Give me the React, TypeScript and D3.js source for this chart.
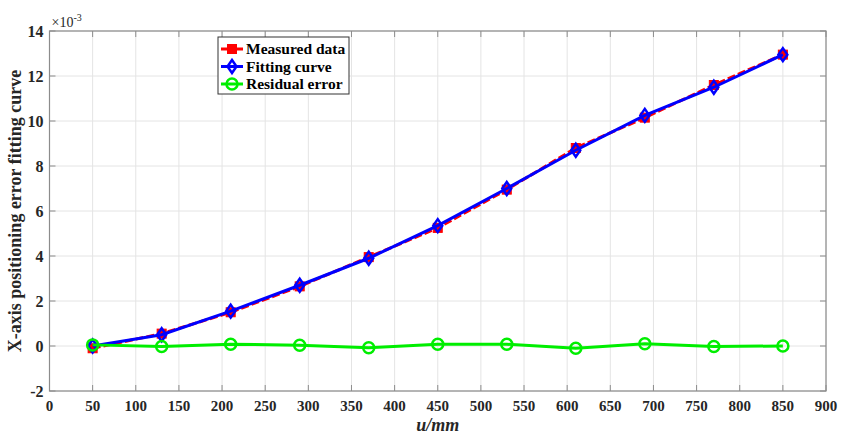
import React from 'react';
import * as d3 from 'd3';

// values in units of 1e-3
const positions = [50, 130, 210, 290, 370, 450, 530, 610, 690, 770, 850];
const measured = [-0.1, 0.55, 1.5, 2.65, 3.95, 5.25, 6.95, 8.8, 10.15, 11.6, 12.95];
const fitting = [0.0, 0.5, 1.55, 2.7, 3.9, 5.35, 7.0, 8.7, 10.25, 11.5, 12.95];
const residual = [0.05, -0.02, 0.08, 0.03, -0.08, 0.08, 0.08, -0.1, 0.1, -0.02, 0.0];

const xTicks = d3.range(0, 901, 50);
const yTicks = d3.range(-2, 15, 2);
const legendItems = [
  { label: 'Measured data', color: '#ff0000', shape: 'square' },
  { label: 'Fitting curve', color: '#0000ff', shape: 'diamond' },
  { label: 'Residual error', color: '#00ee00', shape: 'circle' },
];

const W = 843;
const H = 436;
const margin = { top: 31, right: 17, bottom: 45, left: 49.5 };
const font = '"Liberation Serif", "Times New Roman", serif';

const App = () => {
  const x = d3.scaleLinear().domain([0, 900]).range([margin.left, W - margin.right]);
  const y = d3.scaleLinear().domain([-2, 14]).range([H - margin.bottom, margin.top]);
  const line = d3.line<number>().x((_, i) => x(positions[i])).y(d => y(d));

  const [x0, x1] = x.range();
  const [y0, y1] = y.range();

  const marker = (shape: string, color: string, cx: number, cy: number, key: string) => {
    if (shape === 'square')
      return <rect key={key} x={cx - 4.5} y={cy - 4.5} width={9} height={9} fill={color} stroke={color} strokeWidth={1} />;
    if (shape === 'diamond')
      return <path key={key} d={`M${cx},${cy - 6.5}L${cx + 4.5},${cy}L${cx},${cy + 6.5}L${cx - 4.5},${cy}Z`} fill="none" stroke={color} strokeWidth={2.5} />;
    return <circle key={key} cx={cx} cy={cy} r={5.5} fill="none" stroke={color} strokeWidth={2.5} />;
  };

  const series = [
    { data: measured, color: '#ff0000', shape: 'square', dash: '8 3' },
    { data: fitting, color: '#0000ff', shape: 'diamond', dash: undefined },
    { data: residual, color: '#00ee00', shape: 'circle', dash: undefined },
  ];

  return (
    <svg width={W} height={H} style={{ display: 'block', position: 'absolute', left: 0, top: 0 }} fontFamily={font}>
      <rect width={W} height={H} fill="#fff" />
      {/* grid */}
      {xTicks.map(t => (
        <line key={'gx' + t} x1={x(t)} x2={x(t)} y1={y0} y2={y1} stroke="#e4e4e4" strokeWidth={1} />
      ))}
      {yTicks.map(t => (
        <line key={'gy' + t} x1={x0} x2={x1} y1={y(t)} y2={y(t)} stroke="#e4e4e4" strokeWidth={1} />
      ))}
      {/* box */}
      <rect x={x0} y={y1} width={x1 - x0} height={y0 - y1} fill="none" stroke="#8c8c8c" strokeWidth={1.2} />
      {xTicks.map(t => (
        <g key={'tx' + t}>
          <line x1={x(t)} x2={x(t)} y1={y0} y2={y0 - 6} stroke="#8c8c8c" />
          <line x1={x(t)} x2={x(t)} y1={y1} y2={y1 + 6} stroke="#8c8c8c" />
          <text x={x(t)} y={y0 + 20} textAnchor="middle" fontSize={15} fontWeight="bold" fill="#262626">{t}</text>
        </g>
      ))}
      {yTicks.map(t => (
        <g key={'ty' + t}>
          <line x1={x0} x2={x0 + 6} y1={y(t)} y2={y(t)} stroke="#8c8c8c" />
          <line x1={x1} x2={x1 - 6} y1={y(t)} y2={y(t)} stroke="#8c8c8c" />
          <text x={x0 - 6} y={y(t) + 5.5} textAnchor="end" fontSize={16} fontWeight="bold" fill="#262626">{t}</text>
        </g>
      ))}
      <text x={x0 + 2} y={y1 - 4} fontSize={14} fill="#262626">
        ×10<tspan dy={-6} fontSize={10}>-3</tspan>
      </text>
      {/* series */}
      {series.map((s, si) => (
        <g key={'s' + si}>
          <path d={line(s.data) || ''} fill="none" stroke={s.color} strokeWidth={3} strokeDasharray={s.dash} />
          {s.data.map((v, i) => marker(s.shape, s.color, x(positions[i]), y(v), `m${si}-${i}`))}
        </g>
      ))}
      {/* legend */}
      <g transform="translate(218,37)">
        <rect x={0} y={0} width={131} height={57} fill="#fff" stroke="#333" strokeWidth={1} />
        {legendItems.map((d, i) => (
          <g key={d.label} transform={`translate(0,${12 + i * 17.5})`}>
            <line x1={3} x2={25} y1={0} y2={0} stroke={d.color} strokeWidth={3} />
            {marker(d.shape, d.color, 14, 0, 'lg' + i)}
            <text x={28} y={5} fontSize={15.5} fontWeight="bold" fill="#000">{d.label}</text>
          </g>
        ))}
      </g>
      {/* axis labels */}
      <text x={(x0 + x1) / 2} y={H - 5} textAnchor="middle" fontSize={18} fontWeight="bold" fontStyle="italic" fill="#262626">u/mm</text>
      <text transform={`translate(21,${(y0 + y1) / 2}) rotate(-90)`} textAnchor="middle" fontSize={18} fontWeight="bold" fill="#262626">
        X-axis positioning error fitting curve
      </text>
    </svg>
  );
};

export default App;
